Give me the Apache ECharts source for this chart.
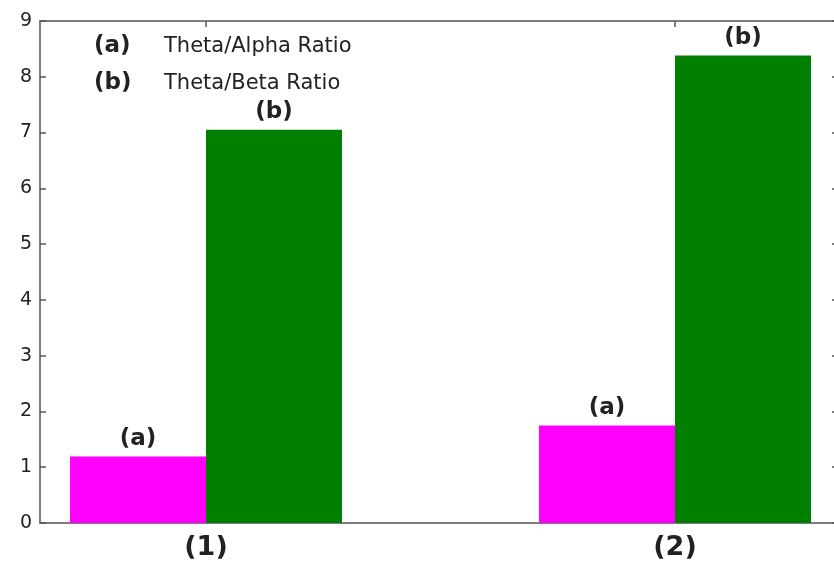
<!DOCTYPE html>
<html>
<head>
<meta charset="utf-8">
<script src="https://cdn.jsdelivr.net/npm/echarts@6/dist/echarts.min.js"></script>
<style>
  html, body { margin: 0; padding: 0; background: #fff; overflow: hidden; }
  #chart { width: 834px; height: 565px; }
</style>
</head>
<body>
<div id="chart"></div>
<script>
// Group positions and labels along the x axis
const groups = [1, 2];
const groupLabels = ['(1)', '(2)'];

// Ratio values per group
const thetaAlpha = [1.19, 1.75];
const thetaBeta = [7.05, 8.38];

// Series names and their short tags
const seriesNames = ['Theta/Alpha Ratio', 'Theta/Beta Ratio'];
const seriesTags = ['(a)', '(b)'];

// Y axis range
const yMin = 0, yMax = 9, yStep = 1;

const axisGray = '#7d7d7d';
const textDark = '#222';

const chart = echarts.init(document.getElementById('chart'), null, { renderer: 'canvas' });

const pair = (vals) => groups.map((g, i) => [g, vals[i]]);

const barLabel = (tag) => ({
  show: true,
  position: 'top',
  distance: 6,
  formatter: tag,
  color: textDark,
  fontFamily: 'DejaVu Sans',
  fontWeight: 'bold',
  fontSize: 23
});

// The plot box runs a little past the right edge of the canvas
const xMin = 0.6461, xMax = 2.3475;

chart.setOption({
  animation: false,
  backgroundColor: '#fff',
  grid: { left: 40, right: -4, top: 21, bottom: 42, containLabel: false, outerBoundsMode: 'none' },
  legend: {
    left: 84,
    top: 30,
    orient: 'vertical',
    icon: 'none',
    itemWidth: 0,
    itemHeight: 0,
    itemGap: 14,
    selectedMode: false,
    data: seriesNames,
    formatter: (name) => `{k|${seriesTags[seriesNames.indexOf(name)]}}{t|${name}}`,
    textStyle: {
      rich: {
        k: { fontFamily: 'DejaVu Sans', fontWeight: 'bold', fontSize: 23, color: textDark, width: 70, lineHeight: 30 },
        t: { fontFamily: 'DejaVu Sans', fontSize: 21, color: textDark, lineHeight: 30 }
      }
    }
  },
  xAxis: [
    {
      type: 'value',
      position: 'bottom',
      min: xMin,
      max: xMax,
      splitLine: { show: false },
      axisLine: { show: true, onZero: false, lineStyle: { color: axisGray, width: 2 } },
      axisTick: { show: false },
      axisLabel: {
        customValues: groups,
        formatter: (v) => groupLabels[groups.indexOf(Math.round(v))] || '',
        margin: 11,
        color: textDark,
        fontFamily: 'DejaVu Sans',
        fontWeight: 'bold',
        fontSize: 27
      }
    },
    {
      type: 'value',
      position: 'top',
      min: xMin,
      max: xMax,
      splitLine: { show: false },
      axisLine: { show: true, onZero: false, lineStyle: { color: axisGray, width: 2 } },
      axisTick: { show: true, inside: true, length: 6, customValues: groups, lineStyle: { color: '#555', width: 1.5 } },
      axisLabel: { show: false }
    }
  ],
  yAxis: [
    {
      type: 'value',
      position: 'left',
      min: yMin,
      max: yMax,
      interval: yStep,
      splitLine: { show: false },
      axisLine: { show: true, onZero: false, lineStyle: { color: axisGray, width: 2 } },
      axisTick: { show: true, inside: true, length: 6, lineStyle: { color: '#555', width: 1.5 } },
      axisLabel: { margin: 8, color: textDark, fontFamily: 'DejaVu Sans', fontSize: 19 }
    },
    {
      type: 'value',
      position: 'right',
      min: yMin,
      max: yMax,
      interval: yStep,
      splitLine: { show: false },
      axisLine: { show: true, onZero: false, lineStyle: { color: axisGray, width: 2 } },
      axisTick: { show: true, inside: true, length: 6, lineStyle: { color: '#555', width: 1.5 } },
      axisLabel: { show: false }
    }
  ],
  series: [
    {
      name: seriesNames[0],
      type: 'bar',
      data: pair(thetaAlpha),
      barWidth: 136,
      barGap: '0%',
      itemStyle: { color: '#ff00ff' },
      label: barLabel(seriesTags[0])
    },
    {
      name: seriesNames[1],
      type: 'bar',
      data: pair(thetaBeta),
      barWidth: 136,
      barGap: '0%',
      itemStyle: { color: '#007f00' },
      label: barLabel(seriesTags[1])
    }
  ]
});
</script>
</body>
</html>
